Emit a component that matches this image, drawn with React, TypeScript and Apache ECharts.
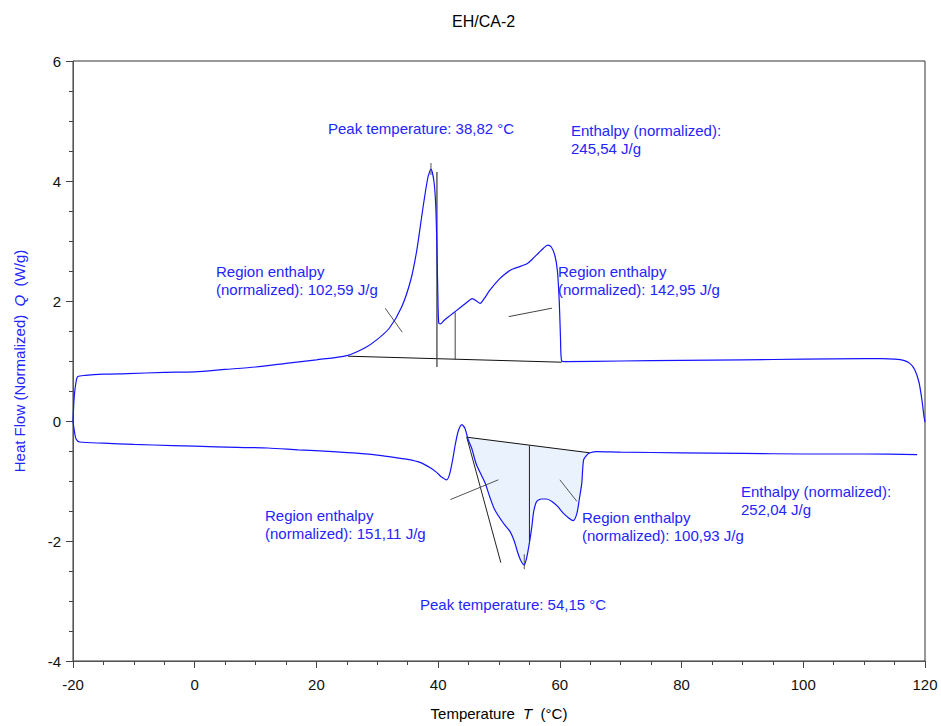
import React, { useEffect, useRef } from "react";
import * as echarts from "echarts";

const FONT = "Arial, 'Liberation Sans', sans-serif";
const BLUE = "#1414ff";
const TEXT_BLUE = "#2424ff";

// Heating curve (upper branch)
const heatT = [-20, -19.8, -19.5, -19.2, -18, -15, -11, -5, 0, 5, 10, 15, 20, 25, 28, 30, 32, 34, 35.5, 36.5, 37.5, 38.3, 38.82, 39.3, 39.6, 39.8, 39.95, 40.1, 40.4, 41, 42, 43, 44, 45, 45.6, 46.3, 46.9, 47.5, 48.5, 50, 51, 52, 53, 54.6, 55.5, 56.5, 57.3, 58, 58.6, 59.2, 59.6, 59.9, 60.1, 60.3, 61, 70, 80, 90, 100, 110, 113, 115, 116.5, 117.5, 118.3, 119, 119.5, 119.8, 120];
const heatQ = [0.0, 0.4, 0.65, 0.74, 0.76, 0.78, 0.79, 0.81, 0.82, 0.86, 0.9, 0.96, 1.02, 1.09, 1.22, 1.36, 1.55, 1.9, 2.35, 2.85, 3.55, 4.05, 4.2, 4.0, 3.6, 2.9, 2.1, 1.63, 1.62, 1.68, 1.76, 1.84, 1.92, 2.0, 2.04, 2.0, 1.96, 2.03, 2.18, 2.36, 2.45, 2.52, 2.56, 2.62, 2.7, 2.8, 2.88, 2.93, 2.9, 2.75, 2.5, 2.0, 1.4, 1.0, 0.99, 1.0, 1.01, 1.02, 1.03, 1.04, 1.04, 1.03, 1.01, 0.96, 0.86, 0.65, 0.35, 0.1, -0.02];

// Cooling curve (lower branch)
const coolT = [118.7, 110, 100, 90, 80, 70, 66, 65, 64.5, 63.9, 63.6, 63.2, 62.8, 62.2, 61.5, 60.6, 59.6, 58.7, 57.8, 57.0, 56.2, 55.7, 55.4, 54.9, 54.5, 54.15, 53.6, 53.1, 52.5, 51.8, 50.7, 49.3, 48.5, 47.7, 46.3, 45.5, 44.9, 44.4, 43.9, 43.3, 42.8, 42.4, 41.9, 41.4, 40.5, 39.8, 38.7, 37, 35, 33, 31, 27, 22.7, 17, 12, 7, 0, -3.6, -10, -15, -18.9, -19.5, -19.8, -20];
const coolQ = [-0.56, -0.55, -0.55, -0.54, -0.53, -0.52, -0.51, -0.53, -0.56, -0.65, -1.04, -1.3, -1.54, -1.66, -1.62, -1.54, -1.42, -1.34, -1.3, -1.3, -1.34, -1.51, -1.76, -2.09, -2.3, -2.4, -2.33, -2.2, -2.0, -1.84, -1.7, -1.48, -1.27, -1.03, -0.73, -0.45, -0.3, -0.12, -0.06, -0.17, -0.4, -0.64, -0.88, -0.98, -0.93, -0.86, -0.78, -0.69, -0.64, -0.61, -0.58, -0.54, -0.51, -0.48, -0.45, -0.44, -0.42, -0.41, -0.39, -0.37, -0.35, -0.3, -0.15, 0.0];

// Evaluation construction lines [T, Q] pairs
const heatBaseline = [[25.2, 1.08], [60.3, 0.98]];
const heatPeakMark = [[38.82, 4.3], [38.82, 4.1]];
const heatSplit = [[39.8, 4.15], [39.8, 0.9]];
const heatDivider = [[42.8, 1.81], [42.8, 1.02]];
const heatSlant1 = [[31.3, 1.88], [34.1, 1.48]];
const heatSlant2 = [[51.6, 1.74], [58.7, 1.88]];
const coolBaseline = [[44.7, -0.27], [64.9, -0.53]];
const coolDivider = [[55.0, -0.41], [55.0, -2.0]];
const coolPeakMark = [[54.15, -2.22], [54.15, -2.47]];
const coolTangent = [[44.7, -0.27], [50.3, -2.36]];
const coolSlant1 = [[42.0, -1.31], [49.9, -0.98]];
const coolSlant2 = [[60.0, -0.98], [62.8, -1.34]];

// Annotation texts
const annotations = [
  { text: "Peak temperature: 38,82 °C", x: 328, y: 119 },
  { text: "Enthalpy (normalized):\n245,54 J/g", x: 571, y: 121 },
  { text: "Region enthalpy\n(normalized): 102,59 J/g", x: 216, y: 262 },
  { text: "Region enthalpy\n(normalized): 142,95 J/g", x: 558, y: 262 },
  { text: "Region enthalpy\n(normalized): 151,11 J/g", x: 265, y: 506 },
  { text: "Region enthalpy\n(normalized): 100,93 J/g", x: 582, y: 508 },
  { text: "Enthalpy (normalized):\n252,04 J/g", x: 741, y: 482 },
  { text: "Peak temperature: 54,15 °C", x: 420, y: 595 },
];

export default function App() {
  const ref = useRef<HTMLDivElement>(null);

  useEffect(() => {
    if (!ref.current) return;
    const chart = echarts.init(ref.current, undefined, { renderer: "svg" });

    const heatData = heatT.map((t, i) => [t, heatQ[i]]);
    const coolData = coolT.map((t, i) => [t, coolQ[i]]);

    // shaded region polygon: baseline + curve between its ends
    const b0 = coolBaseline[0];
    const b1 = coolBaseline[1];
    const curvePart = coolData.filter((p) => p[0] > b0[0] && p[0] < b1[0]);
    const areaPoly = [b0, b1, ...curvePart];

    const seg = (data: number[][], color: string, width = 1) => ({
      type: "line",
      data,
      symbol: "none",
      silent: true,
      lineStyle: { color, width },
      z: 3,
    });

    const option: any = {
      animation: false,
      backgroundColor: "#fff",
      title: {
        text: "EH/CA-2",
        left: 447,
        top: 8,
        textStyle: { fontFamily: FONT, fontSize: 16, fontWeight: "normal", color: "#000" },
      },
      grid: {
        left: 73,
        right: 16,
        top: 61,
        bottom: 64,
        show: true,
        borderColor: "#333",
        borderWidth: 1,
        backgroundColor: "transparent",
      },
      xAxis: {
        type: "value",
        min: -20,
        max: 120,
        interval: 20,
        name: "Temperature  {i|T}  (°C)",
        nameLocation: "middle",
        nameGap: 45,
        nameTextStyle: {
          fontFamily: FONT,
          fontSize: 15,
          color: "#000",
          rich: { i: { fontStyle: "italic", fontFamily: FONT, fontSize: 15, color: "#000" } },
        },
        axisLine: { show: true, onZero: false, lineStyle: { color: "#555", width: 1 } },
        axisTick: { show: true, inside: false, length: 7, lineStyle: { color: "#444" } },
        minorTick: { show: true, splitNumber: 4, length: 4, lineStyle: { color: "#444" } },
        splitLine: { show: false },
        axisLabel: { fontFamily: FONT, fontSize: 15, color: "#111", margin: 16 },
      },
      yAxis: {
        type: "value",
        min: -4,
        max: 6,
        interval: 2,
        name: "Heat Flow (Normalized)  {i|Q}  (W/g)",
        nameLocation: "middle",
        nameGap: 46,
        nameTextStyle: {
          fontFamily: FONT,
          fontSize: 15,
          color: TEXT_BLUE,
          rich: { i: { fontStyle: "italic", fontFamily: FONT, fontSize: 15, color: TEXT_BLUE } },
        },
        axisLine: { show: true, onZero: false, lineStyle: { color: "#555", width: 1 } },
        axisTick: { show: true, inside: false, length: 7, lineStyle: { color: "#444" } },
        minorTick: { show: true, splitNumber: 4, length: 4, lineStyle: { color: "#444" } },
        splitLine: { show: false },
        axisLabel: { fontFamily: FONT, fontSize: 15, color: "#111", margin: 12 },
      },
      series: [
        {
          type: "custom",
          data: areaPoly,
          encode: { x: 0, y: 1 },
          silent: true,
          z: 1,
          renderItem: (params: any, api: any) => {
            if (params.dataIndex !== 0) return null;
            const pts = areaPoly.map((p) => api.coord(p));
            return {
              type: "polygon",
              shape: { points: pts },
              style: { fill: "#eaf3fd", stroke: "none" },
            };
          },
        },
        {
          type: "line",
          data: heatData,
          symbol: "none",
          smooth: 0.25,
          lineStyle: { color: BLUE, width: 1.2 },
          z: 4,
        },
        {
          type: "line",
          data: coolData,
          symbol: "none",
          smooth: 0.25,
          lineStyle: { color: BLUE, width: 1.2 },
          z: 4,
        },
        seg(heatBaseline, "#111"),
        seg(heatPeakMark, "#555"),
        seg(heatSplit, "#444", 1.3),
        seg(heatDivider, "#444"),
        seg(heatSlant1, "#555"),
        seg(heatSlant2, "#444"),
        seg(coolBaseline, "#111"),
        seg(coolDivider, "#222"),
        seg(coolPeakMark, "#555"),
        seg(coolTangent, "#222"),
        seg(coolSlant1, "#555"),
        seg(coolSlant2, "#555"),
      ],
      graphic: annotations.map((a) => ({
        type: "text",
        x: a.x,
        y: a.y,
        silent: true,
        style: {
          text: a.text,
          fill: TEXT_BLUE,
          font: `15px ${FONT}`,
          lineHeight: 18,
          textVerticalAlign: "top",
          verticalAlign: "top",
        },
      })),
    };

    chart.setOption(option);
    return () => chart.dispose();
  }, []);

  return <div ref={ref} style={{ width: 941, height: 726, position: "absolute", left: 0, top: 0 }} />;
}
